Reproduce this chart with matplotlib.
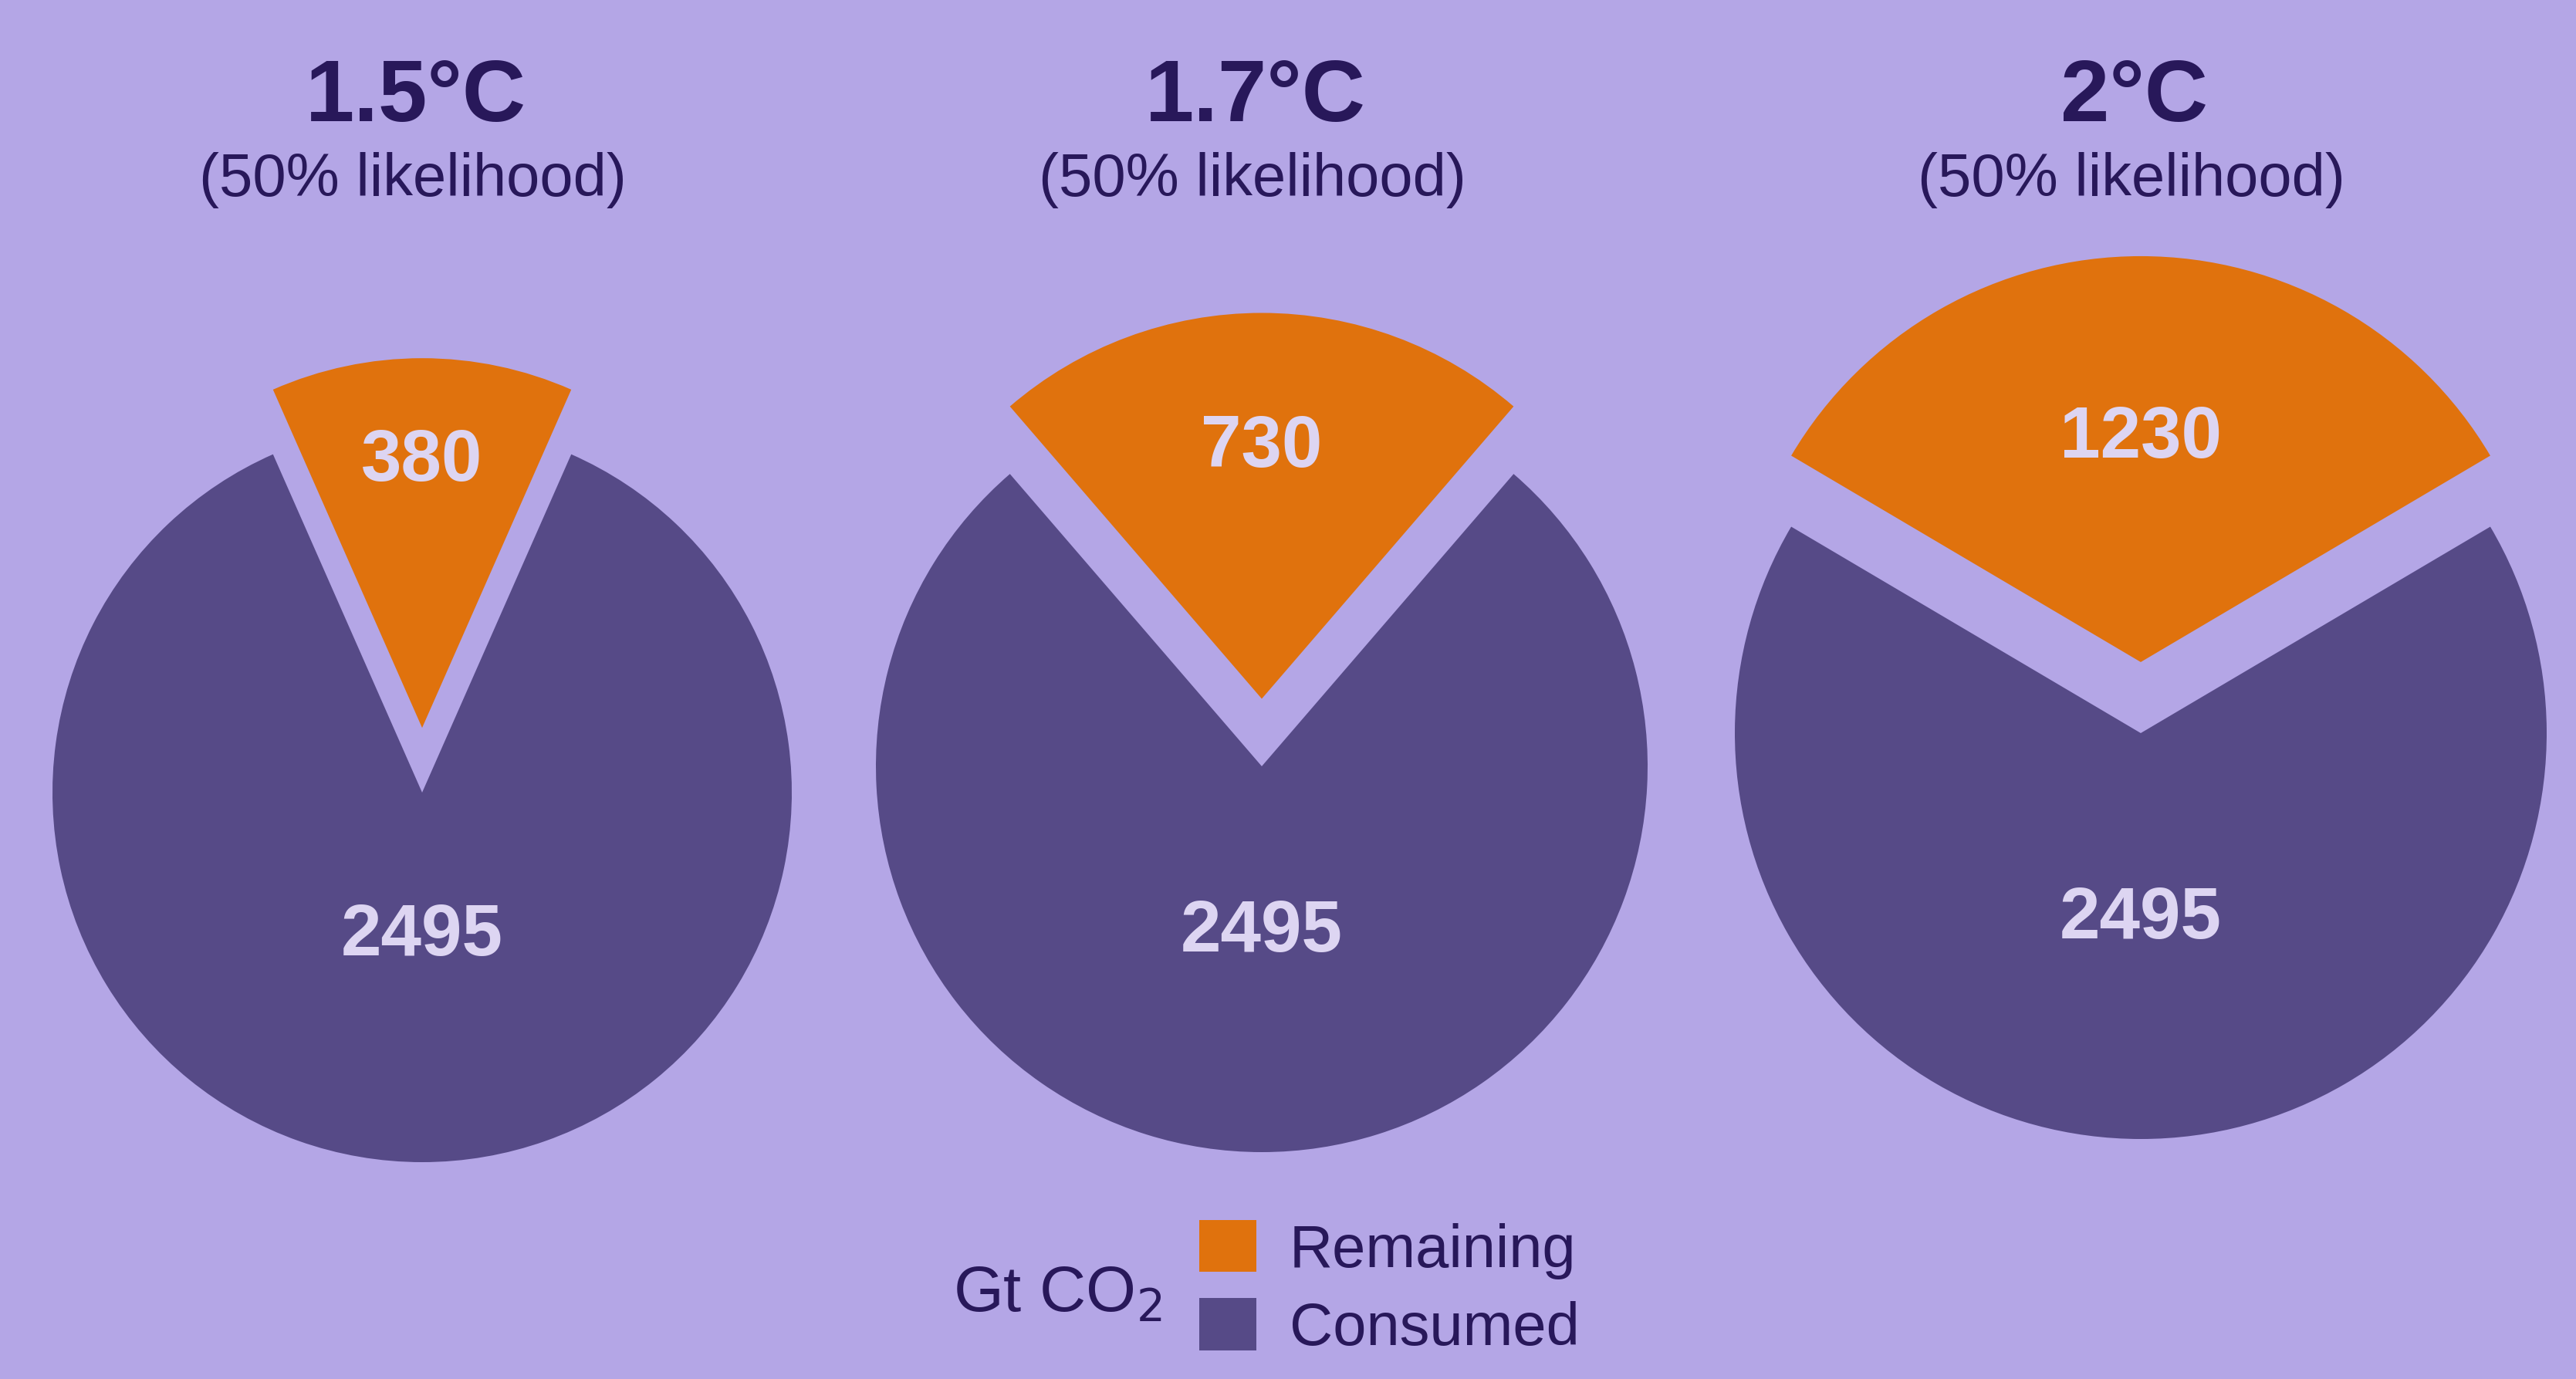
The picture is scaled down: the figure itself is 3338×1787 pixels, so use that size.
import numpy as np
import matplotlib
matplotlib.use('Agg')
import matplotlib.pyplot as plt
from matplotlib.patches import Patch

# data
scenarios = ['1.5°C', '1.7°C', '2°C']
likelihood = ['(50% likelihood)'] * 3
remaining = [380, 730, 1230]
consumed = [2495, 2495, 2495]
series_names = ['Remaining', 'Consumed']

# style
BG = '#b4a6e6'
ORANGE = '#e0720d'
PURPLE = '#564a87'
TEXT = '#28185a'
LABEL = '#ddd5f2'
plt.rcParams['font.family'] = ['Liberation Sans', 'DejaVu Sans']

W, H = 3338, 1787
centers = [(547, 760), (1635, 794), (2774, 837)]   # pixel layout of the pies
radii = [479, 500, 526]
explode_frac = 0.175
rem_label_pos = [0.72, 0.65, 0.55]
con_label_pos = [0.39, 0.43, 0.46]

fig = plt.figure(figsize=(W / 100, H / 100), dpi=100, facecolor=BG)
ax = fig.add_axes([0, 0, 1, 1])
ax.set_facecolor(BG)

for i in range(len(scenarios)):
    vals = [remaining[i], consumed[i]]
    frac = remaining[i] / sum(vals)
    r = radii[i]
    wedges, _ = ax.pie(vals, colors=[ORANGE, PURPLE], center=centers[i], radius=r,
                       startangle=90 - 180 * frac, counterclock=True,
                       explode=[explode_frac * r, 0], frame=True,
                       wedgeprops=dict(linewidth=0))
    for w, v, f in zip(wedges, vals, [rem_label_pos[i], con_label_pos[i]]):
        th = np.deg2rad((w.theta1 + w.theta2) / 2)
        cx, cy = w.center
        ax.text(cx + f * r * np.cos(th), cy + f * r * np.sin(th), str(v),
                ha='center', va='center', fontsize=68, fontweight='bold', color=LABEL)
    ax.text(centers[i][0] - 8, 1659, scenarios[i], ha='center', va='center',
            fontsize=82, fontweight='bold', color=TEXT)
    ax.text(centers[i][0] - 12, 1553, likelihood[i], ha='center', va='center',
            fontsize=56, color=TEXT)

ax.set_xlim(0, W)
ax.set_ylim(0, H)
ax.set_aspect('equal')
ax.axis('off')

handles = [Patch(facecolor=ORANGE), Patch(facecolor=PURPLE)]
ax.legend(handles, series_names, loc='center left', bbox_to_anchor=(1554, 117),
          bbox_transform=ax.transData, frameon=False, fontsize=56,
          handlelength=0.95, handleheight=0.95, handletextpad=0.55,
          labelspacing=0.32, borderpad=0, borderaxespad=0, labelcolor=TEXT)
ax.text(1235, 110, 'Gt CO$_2$', ha='left', va='center', fontsize=60, color=TEXT)

fig.savefig('out.png', dpi=100, facecolor=BG)
